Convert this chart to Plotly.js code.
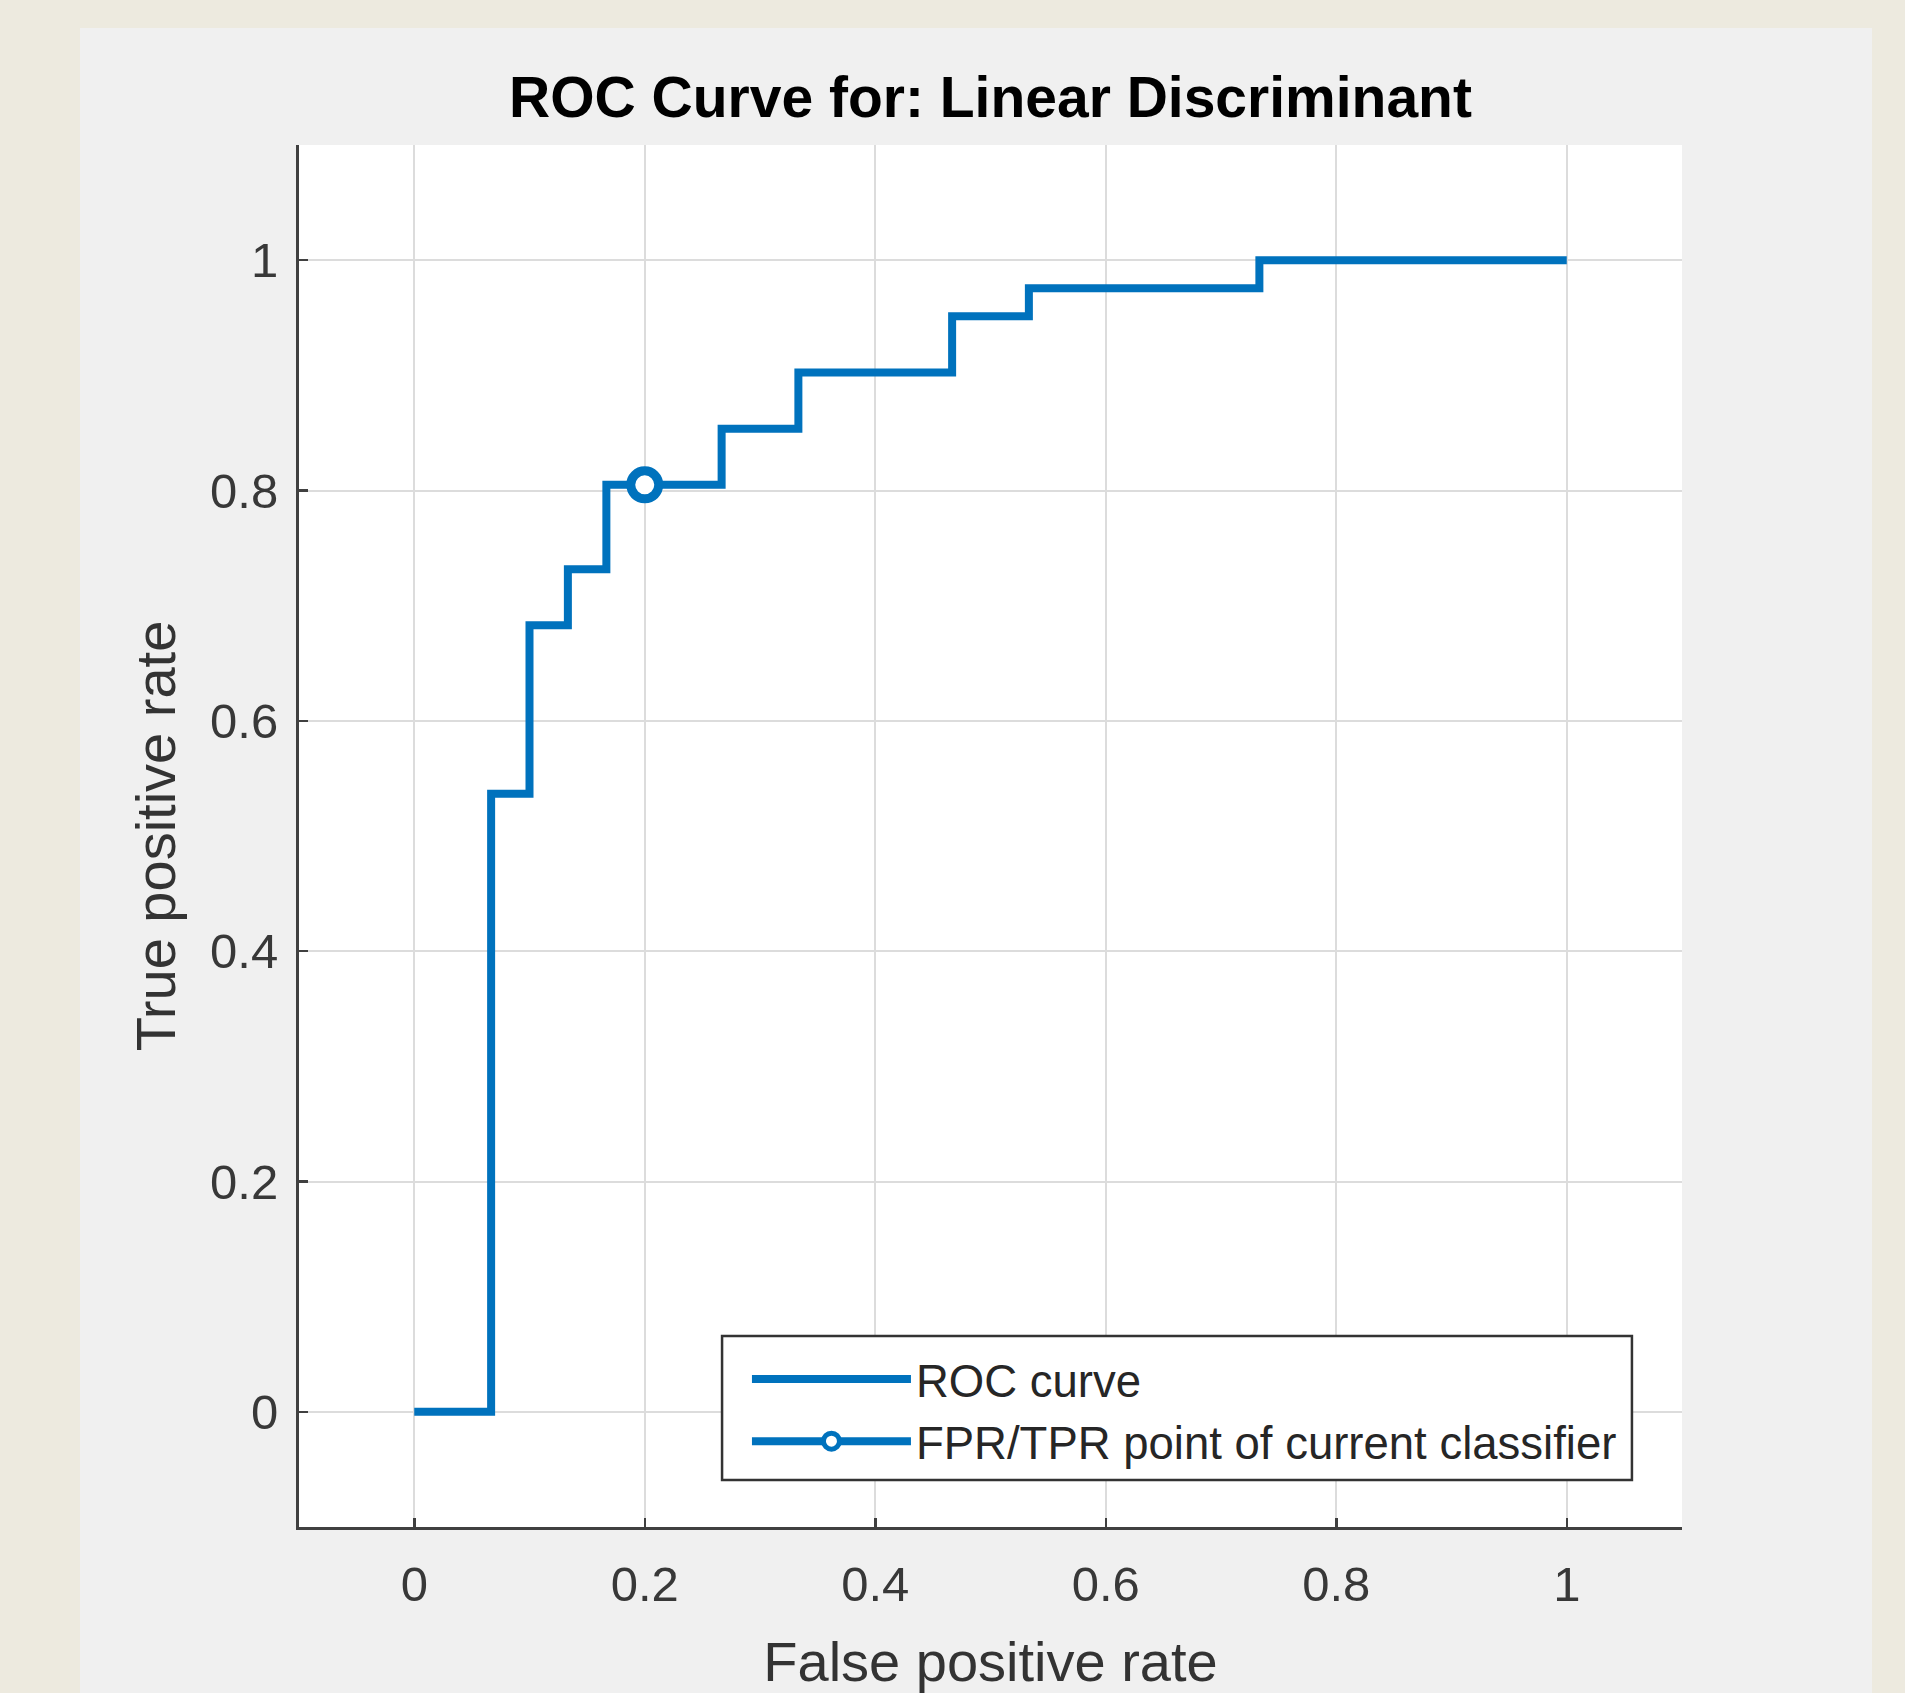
<!DOCTYPE html>
<html>
<head>
<meta charset="utf-8">
<script src="https://cdn.plot.ly/plotly-3.0.1.min.js"></script>
<style>
  html, body { margin: 0; padding: 0; background: #EDEADF; width: 1905px; height: 1693px; overflow: hidden; }
  #chart { position: absolute; left: 80px; top: 28px; width: 1792px; height: 1665px; }
</style>
</head>
<body>
<div id="chart"></div>
<script>
// ROC curve (step points: false positive rate / true positive rate)
var fpr = [0, 0.0667, 0.1, 0.1333, 0.1667, 0.2667, 0.3333, 0.4667, 0.5333, 0.7333, 1];
var tpr = [0, 0.5366, 0.6829, 0.7317, 0.8049, 0.8537, 0.9024, 0.9512, 0.9756, 1, 1];

// Operating point of the current classifier
var pointFpr = [0.2];
var pointTpr = [0.8049];

// Tick values / labels
var tickVals = [0, 0.2, 0.4, 0.6, 0.8, 1];
var tickText = ['0', '0.2', '0.4', '0.6', '0.8', '1'];

var blue = '#0072BD';
var axisCol = '#404040';
var font = '"Liberation Sans", Arial, Helvetica, sans-serif';

var traces = [
  {
    x: fpr, y: tpr, type: 'scatter', mode: 'lines',
    name: 'ROC curve',
    line: { shape: 'hv', color: blue, width: 8 }
  },
  {
    x: pointFpr, y: pointTpr, type: 'scatter', mode: 'lines+markers',
    name: 'FPR/TPR point of current classifier',
    line: { color: blue, width: 8 },
    marker: { symbol: 'circle', size: 28, color: '#FFFFFF', line: { color: blue, width: 9 } }
  }
];

function axis(titleText, labelStandoff, titleStandoff) {
  return {
    range: [-0.1, 1.1],
    tickvals: tickVals,
    ticktext: tickText,
    showline: true, linecolor: axisCol, linewidth: 3,
    ticks: 'inside', ticklen: 9, tickwidth: 2.5, tickcolor: axisCol,
    showgrid: true, gridcolor: '#DCDCDC', gridwidth: 2,
    zeroline: false, mirror: false,
    ticklabelstandoff: labelStandoff,
    tickfont: { family: font, size: 49, color: '#383838' },
    title: { text: titleText, font: { family: font, size: 56, color: '#333333' }, standoff: titleStandoff },
    fixedrange: true
  };
}

var layout = {
  width: 1792, height: 1665,
  paper_bgcolor: '#F0F0F0', plot_bgcolor: '#FFFFFF',
  margin: { l: 219, r: 190, t: 117, b: 166, pad: 0 },
  title: {
    text: 'ROC Curve for: Linear Discriminant',
    font: { family: font, size: 57, color: '#000000', weight: 'bold' },
    x: 0.5, xref: 'paper', xanchor: 'center',
    y: 0.9586, yref: 'container', yanchor: 'middle'
  },
  xaxis: axis('False positive rate', 12, 33),
  yaxis: axis('True positive rate', 8, 17),
  showlegend: true,
  // legend frame (white box with dark border) behind the legend entries
  shapes: [{
    type: 'rect', xref: 'paper', yref: 'paper', layer: 'above',
    x0: 0.3059, x1: 0.9638, y0: 0.034, y1: 0.1382,
    fillcolor: '#FFFFFF', line: { color: '#333333', width: 2.5 }
  }],
  legend: {
    x: 0.3239, y: 0.0355, xanchor: 'left', yanchor: 'bottom',
    bgcolor: 'rgba(0,0,0,0)', borderwidth: 0,
    font: { family: font, size: 45.5, color: '#262626' },
    itemwidth: 159, tracegroupgap: 0
  }
};

Plotly.newPlot('chart', traces, layout, { staticPlot: true, displayModeBar: false });
</script>
</body>
</html>
